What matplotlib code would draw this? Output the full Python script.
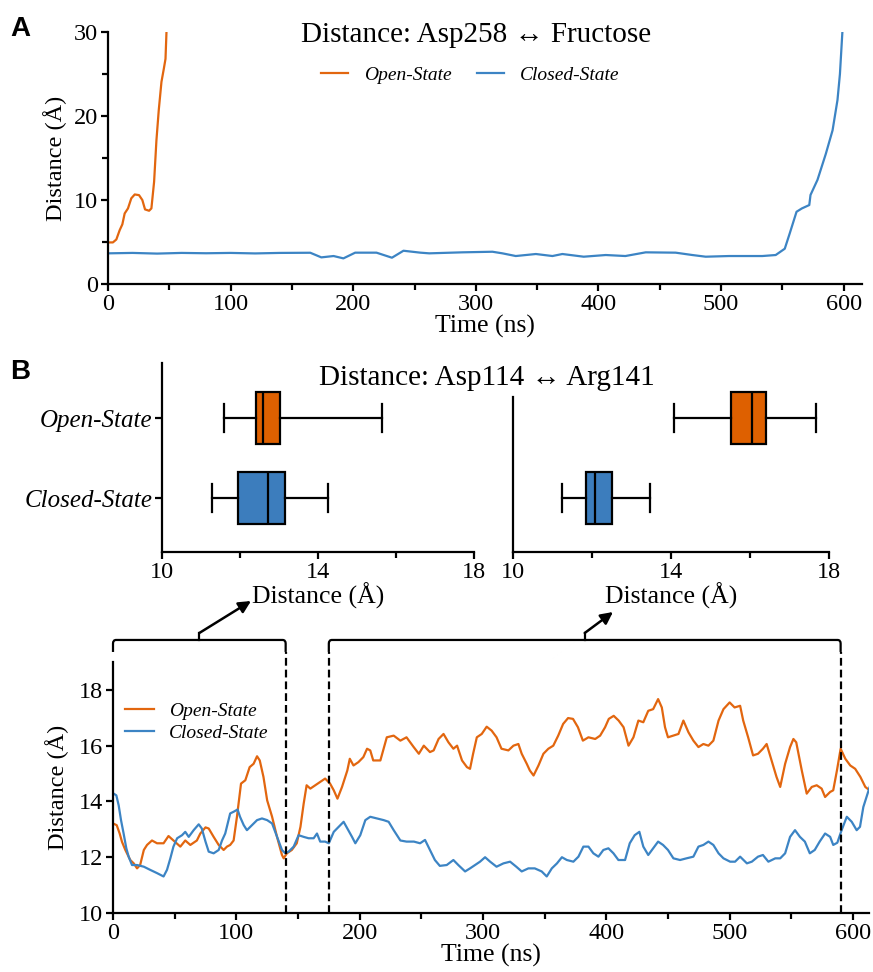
import numpy as np
import matplotlib
matplotlib.use('Agg')
import matplotlib.pyplot as plt
from matplotlib.path import Path
from matplotlib.patches import PathPatch

plt.rcParams['font.family'] = ['Liberation Serif', 'DejaVu Serif']
plt.rcParams['axes.linewidth'] = 1.6
plt.rcParams['xtick.major.width'] = 1.6
plt.rcParams['ytick.major.width'] = 1.6
plt.rcParams['xtick.minor.width'] = 1.6
plt.rcParams['ytick.minor.width'] = 1.6
plt.rcParams['xtick.major.size'] = 5
plt.rcParams['ytick.major.size'] = 5
plt.rcParams['xtick.minor.size'] = 4
plt.rcParams['ytick.minor.size'] = 4

ORANGE = '#E2660F'
BLUE = '#3C84C4'
BOX_ORANGE = '#DE6000'
BOX_BLUE = '#3C7DBD'

# panel A: Asp258 - Fructose
a_open_t = [0, 4, 6.8, 9.5, 11.7, 13.6, 16.3, 19, 21.8, 25.3, 28, 30.2, 33.5, 35.4,
            37.6, 39.5, 41.4, 43.6, 45.5, 46.9, 47.7]
a_open_d = [4.95, 4.95, 5.3, 6.4, 7.1, 8.4, 9.0, 10.2, 10.66, 10.58, 10.0, 8.88, 8.72, 9.0,
            12.17, 17.1, 20.7, 24.06, 25.6, 26.8, 30.0]

a_closed_t = [0, 20, 40, 60, 80, 100, 120, 140, 165, 174, 184, 192, 201.6, 219, 231.6, 241,
              254.8, 262, 289, 313.6, 321.7, 332.6, 349, 362.5, 370.6, 388, 406, 422,
              438.6, 463, 476.6, 487.5, 506.5, 533.7, 544.6, 552, 556, 561.6, 566, 572,
              573, 578.7, 585.5, 591, 595, 597, 599]
a_closed_d = [3.65, 3.7, 3.62, 3.7, 3.66, 3.7, 3.64, 3.7, 3.72, 3.17, 3.33, 3.05, 3.73, 3.73,
              3.13, 3.96, 3.73, 3.65, 3.77, 3.84, 3.65, 3.33, 3.57, 3.33, 3.57, 3.25, 3.45,
              3.33, 3.77, 3.73, 3.45, 3.25, 3.33, 3.33, 3.45, 4.2, 6.0, 8.6, 9.0, 9.4,
              10.6, 12.4, 15.5, 18.3, 21.9, 25.0, 30.0]

# panel B: Asp114 - Arg141 time series
b_open_t = [0.5, 3, 5.4, 7.3, 10, 14, 16.8, 19.5, 22, 25, 27.6, 31.6, 35.7, 41, 45, 49,
            54.6, 58.6, 62.7, 68, 70.8, 75, 77.6, 81.6, 85.7, 89.7, 92.4, 95, 97.8, 100.5,
            103.8, 107.3, 110.8, 114, 116.8, 119, 122, 125, 129, 133, 137, 138.4, 141, 145,
            149, 152, 154.6, 157, 160, 164, 168, 172, 176, 179, 182, 185.7, 190, 192, 195,
            199, 203, 206, 208.6, 211, 216.8, 222, 227.6, 233, 238, 243.8, 248, 252, 257,
            260, 264, 268, 272, 276, 279, 283, 287, 289.5, 292, 295, 299, 303, 307, 311,
            315, 320.6, 324.7, 328.7, 331.4, 335.5, 338, 341, 345, 349, 353, 357, 361, 365,
            369, 373, 377, 381, 385.5, 391, 395, 399, 402, 406, 410, 414, 418, 422, 426,
            430, 434, 438, 442, 445, 447.6, 450, 454.4, 458.5, 462.5, 466.6, 470.6, 474.7,
            478.7, 482.8, 486.8, 491, 495, 500, 504, 508.5, 511, 515, 519, 523, 527, 530,
            534, 538, 541, 545, 549, 551.7, 554, 558.5, 562.5, 566.6, 570.6, 574.6, 577.4,
            581.5, 584, 587, 590, 593.8, 597.8, 601.8, 606, 610, 613.5]
b_open_d = [13.2, 13.15, 12.85, 12.55, 12.26, 11.9, 11.78, 11.6, 11.72, 12.26, 12.44, 12.6,
            12.5, 12.5, 12.76, 12.6, 12.38, 12.6, 12.44, 12.6, 12.85, 13.07, 13.03, 12.73,
            12.44, 12.26, 12.38, 12.44, 12.6, 13.45, 14.64, 14.76, 15.23, 15.35, 15.62,
            15.47, 14.88, 14.04, 13.45, 12.73, 12.08, 11.96, 12.14, 12.26, 12.5, 13.09,
            13.92, 14.58, 14.46, 14.58, 14.7, 14.82, 14.64, 14.4, 14.1, 14.52, 15.11, 15.53,
            15.29, 15.41, 15.59, 15.89, 15.83, 15.47, 15.47, 16.3, 16.36, 16.18, 16.3, 15.95,
            15.71, 16.0, 15.77, 15.83, 16.24, 16.42, 16.12, 15.89, 16.0, 15.47, 15.23, 15.17,
            15.71, 16.3, 16.42, 16.68, 16.54, 16.3, 15.89, 15.83, 16.0, 16.06, 15.71, 15.35,
            15.11, 14.93, 15.29, 15.71, 15.89, 16.0, 16.36, 16.78, 16.99, 16.96, 16.66,
            16.18, 16.3, 16.24, 16.36, 16.66, 16.96, 17.07, 16.9, 16.66, 16.0, 16.3, 16.9,
            16.84, 17.25, 17.31, 17.67, 17.37, 16.66, 16.3, 16.36, 16.42, 16.9, 16.48,
            16.18, 15.95, 16.06, 16.0, 16.18, 16.9, 17.31, 17.55, 17.37, 17.43, 16.9, 16.3,
            15.65, 15.71, 15.89, 16.06, 15.47, 14.88, 14.52, 15.35, 15.95, 16.24, 16.12,
            15.11, 14.28, 14.52, 14.58, 14.46, 14.16, 14.34, 14.4, 15.11, 15.89, 15.53,
            15.29, 15.17, 14.88, 14.52, 14.4]

b_closed_t = [0.5, 2.7, 4.6, 6.5, 8.6, 10.8, 12.7, 15.4, 19.5, 25, 30, 35.7, 41, 43.8, 46.5,
              49, 52, 56, 58.6, 61.4, 65.4, 69.5, 72, 75, 77.6, 81.6, 85.7, 88.4, 91, 95,
              97.8, 101, 103, 106, 108.6, 112.7, 116.8, 120.8, 125, 129, 133, 137, 139.7,
              142.4, 146.5, 150.5, 154.6, 158.6, 162.7, 165.4, 168, 172, 175, 179, 183, 187,
              190, 193.8, 196.5, 200.5, 204.6, 208.6, 214, 219.5, 223.5, 227.6, 233, 238,
              244, 249, 253, 257, 261, 265, 270.6, 276, 280, 285.5, 289.5, 293.6, 297.6,
              301.7, 305.8, 311, 316.6, 322, 327, 331.4, 336.8, 342, 347.6, 351.7, 355.8,
              360, 364, 368, 373.3, 377.4, 381.4, 385.5, 389.5, 393.6, 397.6, 401.7, 405.8,
              409.8, 415.2, 419, 423, 426.8, 430, 434, 438, 442, 446, 450, 454.4, 459.8, 465,
              470.6, 474.7, 478.7, 482.8, 486.8, 491, 495, 500.4, 504.4, 508.5, 514, 518,
              523, 527, 531.4, 537, 541, 545, 549, 553, 557, 561, 565, 569, 573, 577.4,
              581.5, 584, 587.3, 590.8, 595, 599, 603, 605.7, 608.4, 611, 614]
b_closed_d = [14.28, 14.22, 13.86, 13.33, 12.85, 12.32, 12.02, 11.72, 11.72, 11.66, 11.55,
              11.43, 11.31, 11.55, 11.96, 12.38, 12.68, 12.79, 12.91, 12.73, 12.97, 13.18,
              13.03, 12.56, 12.2, 12.14, 12.26, 12.6, 12.85, 13.57, 13.63, 13.71, 13.45,
              13.15, 12.97, 13.15, 13.33, 13.39, 13.33, 13.21, 12.73, 12.26, 12.14, 12.2,
              12.38, 12.79, 12.73, 12.68, 12.68, 12.85, 12.56, 12.56, 12.5, 12.91, 13.09,
              13.27, 13.03, 12.73, 12.5, 12.79, 13.33, 13.45, 13.39, 13.33, 13.27, 12.97,
              12.6, 12.56, 12.56, 12.5, 12.62, 12.26, 11.9, 11.69, 11.72, 11.9, 11.72, 11.49,
              11.6, 11.72, 11.84, 12.0, 11.84, 11.66, 11.78, 11.84, 11.66, 11.49, 11.6, 11.6,
              11.49, 11.31, 11.6, 11.78, 12.0, 11.9, 11.84, 12.02, 12.38, 12.38, 12.14,
              12.02, 12.26, 12.32, 12.14, 11.9, 11.9, 12.5, 12.79, 12.91, 12.38, 12.08,
              12.32, 12.56, 12.44, 12.26, 11.96, 11.9, 11.96, 12.02, 12.38, 12.44, 12.56,
              12.44, 12.14, 11.96, 11.84, 11.84, 12.02, 11.78, 11.84, 12.02, 12.08, 11.84,
              11.96, 11.96, 12.14, 12.73, 12.97, 12.73, 12.56, 12.14, 12.26, 12.56, 12.85,
              12.73, 12.44, 12.52, 12.97, 13.45, 13.27, 12.97, 13.09, 13.8, 14.16, 14.58]

# box statistics (whisker low, q1, median, q3, whisker high)
box_labels = ['Closed-State', 'Open-State']
left_closed = [11.28, 11.95, 12.73, 13.16, 14.26]
left_open = [11.58, 12.40, 12.59, 13.03, 15.63]
right_closed = [11.24, 11.84, 12.08, 12.51, 13.47]
right_open = [14.07, 15.53, 16.05, 16.41, 17.68]

windows = [(0, 140), (175, 590)]

W, H = 873, 972
fig = plt.figure(figsize=(W / 100, H / 100), dpi=100)


def px_axes(l, t, r, b):
    return fig.add_axes([l / W, 1 - b / H, (r - l) / W, (b - t) / H])


TICK = 17.5
XLAB = 18.5
YLAB = 17.5

# ---- panel A
axA = px_axes(108, 32, 862, 284)
axA.plot(a_open_t, a_open_d, color=ORANGE, lw=1.6, label='Open-State')
axA.plot(a_closed_t, a_closed_d, color=BLUE, lw=1.6, label='Closed-State')
axA.set_xlim(0, 615)
axA.set_ylim(0, 30)
axA.set_xticks(np.arange(0, 601, 100))
axA.set_xticks(np.arange(50, 601, 100), minor=True)
axA.set_yticks([0, 10, 20, 30])
axA.set_yticks([5, 15, 25], minor=True)
axA.tick_params(labelsize=TICK, which='both', pad=2)
axA.set_xlabel('Time (ns)', fontsize=XLAB, labelpad=0)
axA.set_ylabel('Distance (Å)', fontsize=YLAB, labelpad=5)
for s in ['top', 'right']:
    axA.spines[s].set_visible(False)
fig.text(476 / W, 1 - 35 / H, 'Distance: Asp258 ↔ Fructose', fontsize=21,
         ha='center', va='center')
fig.legend(*axA.get_legend_handles_labels(), loc='center', ncol=2,
           bbox_to_anchor=(470 / W, 1 - 75 / H), frameon=False,
           prop={'size': 14, 'style': 'italic'}, handlelength=1.4,
           handletextpad=0.8, columnspacing=1.3)

# ---- box plots
def stats(v, lab):
    return dict(whislo=v[0], q1=v[1], med=v[2], q3=v[3], whishi=v[4], label=lab, fliers=[])


def draw_boxes(ax, closed, opened):
    bp = ax.bxp([stats(closed, box_labels[0]), stats(opened, box_labels[1])],
                positions=[0, 1], widths=0.65, capwidths=0.35, showfliers=False,
                orientation='horizontal', patch_artist=True,
                boxprops=dict(lw=1.6, edgecolor='black'),
                whiskerprops=dict(lw=1.6), capprops=dict(lw=1.6),
                medianprops=dict(lw=1.6, color='black'))
    bp['boxes'][0].set_facecolor(BOX_BLUE)
    bp['boxes'][1].set_facecolor(BOX_ORANGE)
    ax.set_xlim(10, 18)
    ax.set_ylim(-0.675, 1.69)
    ax.set_xticks([10, 14, 18])
    ax.set_xticks([12, 16], minor=True)
    ax.tick_params(labelsize=TICK, which='both', pad=2)
    ax.set_xlabel('Distance (Å)', fontsize=XLAB, labelpad=0)
    for s in ['top', 'right']:
        ax.spines[s].set_visible(False)


axL = px_axes(162, 363, 474, 552)
draw_boxes(axL, left_closed, left_open)
axL.set_yticks([0, 1])
axL.set_yticklabels(box_labels, fontsize=18, style='italic')

axR = px_axes(513, 363, 829, 552)
draw_boxes(axR, right_closed, right_open)
axR.set_yticks([])
axR.spines['left'].set_bounds(-0.675, 1.26)

fig.text(487 / W, 1 - 378 / H, 'Distance: Asp114 ↔ Arg141', fontsize=21,
         ha='center', va='center')

# ---- panel B time series
axB = px_axes(113, 662, 869, 913)
axB.plot(b_open_t, b_open_d, color=ORANGE, lw=1.6, label='Open-State')
axB.plot(b_closed_t, b_closed_d, color=BLUE, lw=1.6, label='Closed-State')
axB.set_xlim(0, 613)
axB.set_ylim(10, 19)
axB.set_xticks(np.arange(0, 601, 100))
axB.set_xticks(np.arange(50, 601, 100), minor=True)
axB.set_yticks([10, 12, 14, 16, 18])
axB.tick_params(labelsize=TICK, which='both', pad=2)
axB.set_xlabel('Time (ns)', fontsize=XLAB, labelpad=0)
axB.set_ylabel('Distance (Å)', fontsize=YLAB, labelpad=7)
for s in ['top', 'right']:
    axB.spines[s].set_visible(False)
axB.legend(loc='upper left', bbox_to_anchor=(0.005, 0.87), frameon=False,
           prop={'size': 14, 'style': 'italic'}, handlelength=1.5,
           handletextpad=0.8, labelspacing=0.2, borderaxespad=0)

# brackets, dashed window limits and arrows
top_y, end_y, bump_y, r = 19.79, 19.36, 20.04, 0.13
dash_x = sorted({x for w in windows for x in w if x > 0})
axB.vlines(dash_x, 10, end_y, colors='black', lw=1.6, linestyles=(0, (3.5, 1.8)),
           clip_on=False)
targets = [(251, H - 601), (613, H - 612)]
for (x0, x1), tgt in zip(windows, targets):
    dx = 2.5
    verts = [(x0, end_y), (x0, top_y - r), (x0, top_y), (x0 + dx, top_y),
             (x1 - dx, top_y), (x1, top_y), (x1, top_y - r), (x1, end_y)]
    codes = [Path.MOVETO, Path.LINETO, Path.CURVE3, Path.CURVE3,
             Path.LINETO, Path.CURVE3, Path.CURVE3, Path.LINETO]
    axB.add_patch(PathPatch(Path(verts, codes), fill=False, lw=1.6,
                            edgecolor='black', clip_on=False))
    mid = (x0 + x1) / 2
    axB.plot([mid, mid], [top_y, bump_y], color='black', lw=1.6, clip_on=False)
    axB.annotate('', xy=tgt, xycoords='figure pixels', xytext=(mid, bump_y),
                 textcoords='data', annotation_clip=False,
                 arrowprops=dict(arrowstyle='-|>', lw=1.8, color='black',
                                 shrinkA=0, shrinkB=0, mutation_scale=18))

# panel letters
fig.text(10 / W, 1 - 29 / H, 'A', fontsize=20, fontweight='bold',
         family='Liberation Sans', va='center')
fig.text(10 / W, 1 - 372 / H, 'B', fontsize=20, fontweight='bold',
         family='Liberation Sans', va='center')

fig.savefig('out.png', dpi=100)
